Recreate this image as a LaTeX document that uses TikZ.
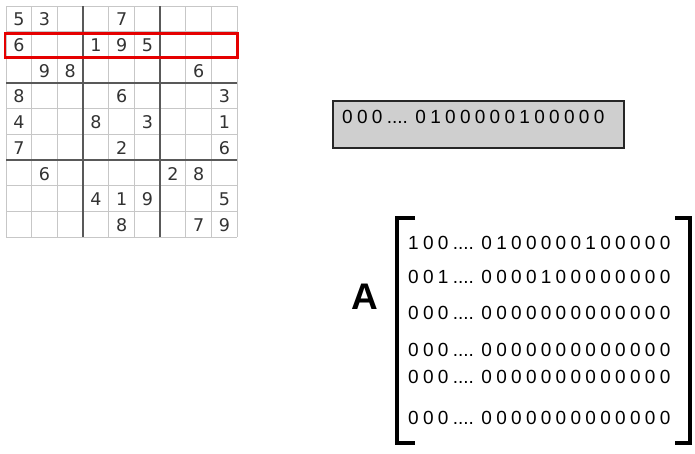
\documentclass[tikz,border=0pt]{standalone}
\usepackage{fontspec}
\setmainfont{Liberation Sans}
\newfontfamily\dvfont{DejaVu Sans}
\newcommand\bitfont{\fontsize{19}{19}\selectfont\spaceskip=4.3pt\relax}
\newcommand\dotsgap{....\hspace{7.5pt}}
\begin{document}
\begin{tikzpicture}[x=1pt,y=-1pt,
  thinline/.style={draw=black!22,line width=0.9pt},
  thickline/.style={draw=black!65,line width=1.8pt},
  cell/.style={font=\dvfont\fontsize{17.5}{17.5}\selectfont,text=black!80,inner sep=0pt},
  bits/.style={font=\bitfont,text=black,inner sep=0pt,anchor=west},
  bracket/.style={line width=3.6pt,line cap=butt}]
\useasboundingbox (0,0) rectangle (695,453);
\def\xo{6}\def\yo{6}\def\cs{25.7}
% thin grid
\foreach \i in {0,...,9}{
  \draw[thinline] (\xo+\i*\cs,\yo) -- (\xo+\i*\cs,\yo+9*\cs);
  \draw[thinline] (\xo,\yo+\i*\cs) -- (\xo+9*\cs,\yo+\i*\cs);
}
\foreach \i in {3,6}{
  \draw[thickline] (\xo+\i*\cs,\yo) -- (\xo+\i*\cs,\yo+9*\cs);
  \draw[thickline] (\xo,\yo+\i*\cs) -- (\xo+9*\cs,\yo+\i*\cs);
}
% digits: row/col/value
\foreach \r/\c/\v in {1/1/5,1/2/3,1/5/7,
  2/1/6,2/4/1,2/5/9,2/6/5,
  3/2/9,3/3/8,3/8/6,
  4/1/8,4/5/6,4/9/3,
  5/1/4,5/4/8,5/6/3,5/9/1,
  6/1/7,6/5/2,6/9/6,
  7/2/6,7/7/2,7/8/8,
  8/4/4,8/5/1,8/6/9,8/9/5,
  9/5/8,9/8/7,9/9/9}{
  \node[cell] (d\r\c) at (\xo+\c*\cs-0.5*\cs,\yo+\r*\cs-0.5*\cs+0.6) {\v};
}
% red highlight
\draw[draw=red!90!black,line width=2.6pt] (5,33.5) rectangle (237.5,57.5);
% grey box
\node[draw=black!85,fill=black!19,line width=1.6pt,minimum width=291pt,minimum height=47pt,anchor=north west,inner sep=0pt] (box) at (332,100) {};
\node[bits] (boxtext) at (342,116.5) {0 0 0 \dotsgap 0 1 0 0 0 0 0 1 0 0 0 0 0};
% matrix label
\node[font=\bfseries\fontsize{37}{37}\selectfont,inner sep=0pt] (A) at (365,297) {A};
% brackets
\draw[bracket] (415,218) -- (397,218) -- (397,443) -- (415,443);
\draw[bracket] (675,218) -- (690,218) -- (690,443) -- (675,443);
% rows
\node[bits] (r1) at (408,242.5) {1 0 0 \dotsgap 0 1 0 0 0 0 0 1 0 0 0 0 0};
\node[bits] (r2) at (408,277) {0 0 1 \dotsgap 0 0 0 0 1 0 0 0 0 0 0 0 0};
\node[bits] (r3) at (408,313) {0 0 0 \dotsgap 0 0 0 0 0 0 0 0 0 0 0 0 0};
\node[bits] (r4) at (408,350) {0 0 0 \dotsgap 0 0 0 0 0 0 0 0 0 0 0 0 0};
\node[bits] (r5) at (408,377) {0 0 0 \dotsgap 0 0 0 0 0 0 0 0 0 0 0 0 0};
\node[bits] (r6) at (408,418) {0 0 0 \dotsgap 0 0 0 0 0 0 0 0 0 0 0 0 0};
\end{tikzpicture}
\end{document}
